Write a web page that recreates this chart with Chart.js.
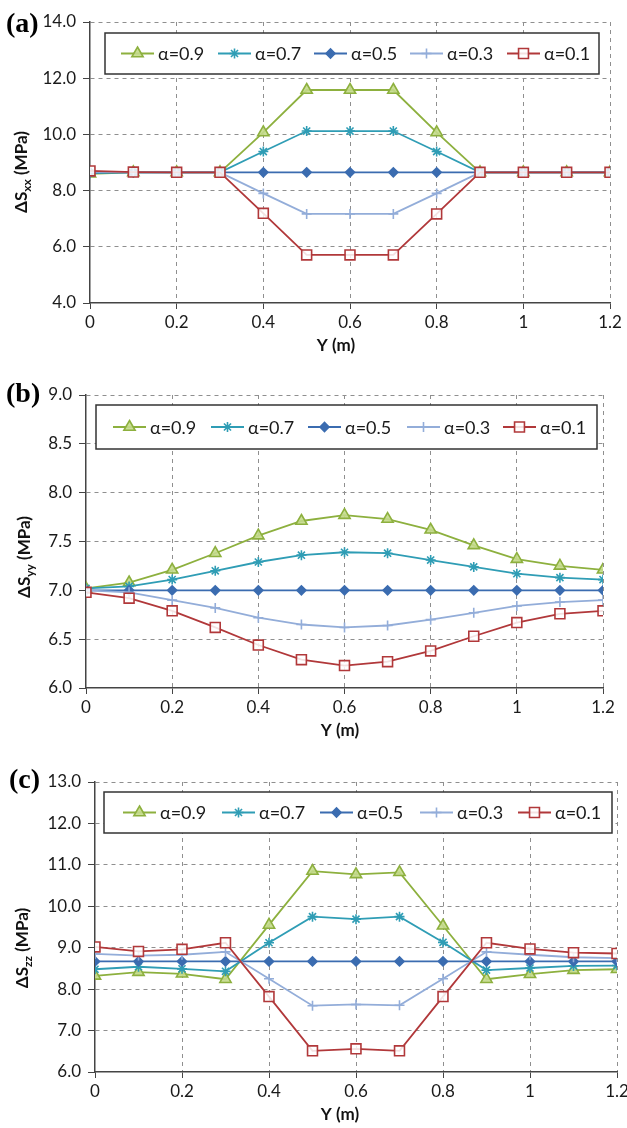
<!DOCTYPE html>
<html>
<head>
<meta charset="utf-8">
<script src="https://cdn.jsdelivr.net/npm/chart.js@4.4.1/dist/chart.umd.min.js"></script>
<style>
  body { margin: 0; background: #fff; }
  #wrap { position: relative; width: 627px; height: 1128px; }
  .panel { position: absolute; left: 0; width: 627px; }
  canvas { display: block; }
</style>
</head>
<body>
<div id="wrap">
  <div class="panel" style="top:0px"><canvas id="chartA" width="627" height="362"></canvas></div>
  <div class="panel" style="top:362px"><canvas id="chartB" width="627" height="383"></canvas></div>
  <div class="panel" style="top:745px"><canvas id="chartC" width="627" height="383"></canvas></div>
</div>
<script>
// Y position along the section (m)
const yPos = [0, 0.1, 0.2, 0.3, 0.4, 0.5, 0.6, 0.7, 0.8, 0.9, 1.0, 1.1, 1.2];
const seriesLabels = ['α=0.9', 'α=0.7', 'α=0.5', 'α=0.3', 'α=0.1'];

// (a) ΔSxx (MPa)
const sxx09 = [8.60, 8.65, 8.65, 8.65, 10.07, 11.58, 11.58, 11.58, 10.07, 8.65, 8.65, 8.65, 8.65];
const sxx07 = [8.62, 8.65, 8.65, 8.65, 9.39, 10.12, 10.12, 10.12, 9.39, 8.65, 8.65, 8.65, 8.65];
const sxx05 = [8.65, 8.65, 8.65, 8.65, 8.65, 8.65, 8.65, 8.65, 8.65, 8.65, 8.65, 8.65, 8.65];
const sxx03 = [8.67, 8.65, 8.65, 8.65, 7.90, 7.17, 7.17, 7.17, 7.90, 8.65, 8.65, 8.65, 8.65];
const sxx01 = [8.70, 8.66, 8.65, 8.65, 7.19, 5.71, 5.71, 5.71, 7.17, 8.65, 8.65, 8.65, 8.65];
const sxxTicks = [4, 6, 8, 10, 12, 14];

// (b) ΔSyy (MPa)
const syy09 = [7.02, 7.08, 7.21, 7.38, 7.56, 7.71, 7.77, 7.73, 7.62, 7.46, 7.32, 7.25, 7.21];
const syy07 = [7.02, 7.04, 7.11, 7.20, 7.29, 7.36, 7.39, 7.38, 7.31, 7.24, 7.17, 7.13, 7.11];
const syy05 = [7.00, 7.00, 7.00, 7.00, 7.00, 7.00, 7.00, 7.00, 7.00, 7.00, 7.00, 7.00, 7.00];
const syy03 = [7.00, 6.98, 6.90, 6.82, 6.72, 6.65, 6.62, 6.64, 6.70, 6.77, 6.84, 6.88, 6.90];
const syy01 = [6.98, 6.92, 6.79, 6.62, 6.44, 6.29, 6.23, 6.27, 6.38, 6.53, 6.67, 6.76, 6.79];
const syyTicks = [6.0, 6.5, 7.0, 7.5, 8.0, 8.5, 9.0];

// (c) ΔSzz (MPa)
const szz09 = [8.32, 8.41, 8.37, 8.24, 9.55, 10.85, 10.77, 10.82, 9.53, 8.24, 8.36, 8.46, 8.48];
const szz07 = [8.48, 8.54, 8.49, 8.43, 9.12, 9.75, 9.69, 9.75, 9.13, 8.46, 8.51, 8.56, 8.57];
const szz05 = [8.67, 8.67, 8.67, 8.67, 8.67, 8.67, 8.67, 8.67, 8.67, 8.67, 8.67, 8.67, 8.67];
const szz03 = [8.85, 8.81, 8.83, 8.90, 8.25, 7.60, 7.63, 7.61, 8.25, 8.90, 8.83, 8.77, 8.75];
const szz01 = [9.02, 8.91, 8.96, 9.12, 7.82, 6.51, 6.56, 6.51, 7.82, 9.12, 8.97, 8.88, 8.86];
const szzTicks = [6, 7, 8, 9, 10, 11, 12, 13];

const xTicks = [0, 0.2, 0.4, 0.6, 0.8, 1.0, 1.2];

const seriesStyles = [
    { color: '#8DB03E', fill: 'rgba(196,218,140,0.9)', point: 'triangle', radius: 6.5 },
    { color: '#2F9DB5', fill: '#2F9DB5', point: 'star', radius: 5 },
    { color: '#3B6CB0', fill: '#3B6CB0', point: 'rectRot', radius: 4.5 },
    { color: '#93ADD9', fill: '#93ADD9', point: 'cross', radius: 5 },
    { color: '#B1383A', fill: 'rgba(255,255,255,0.85)', point: 'rect', radius: 7 }
];

const FONT = 'Lato, "Open Sans", sans-serif';

function buildDatasets(seriesList) {
    return seriesList.map((vals, i) => {
        const st = seriesStyles[i];
        return {
            label: seriesLabels[i],
            data: vals.map((v, k) => ({ x: yPos[k], y: v })),
            borderColor: st.color,
            backgroundColor: st.color,
            borderWidth: 1.8,
            pointStyle: st.point,
            pointRadius: st.radius,
            pointBackgroundColor: st.fill,
            pointBorderColor: st.color,
            pointBorderWidth: 1.6,
            tension: 0,
            fill: false
        };
    }).reverse(); // draw α=0.1 last so it sits on top
}

// draws panel letter, axis titles and the boxed legend
const decorPlugin = {
    id: 'decor',
    afterDraw(chart, args, opts) {
        const ctx = chart.ctx;
        ctx.save();

        // panel letter
        ctx.fillStyle = '#000';
        ctx.font = 'bold 28px "Liberation Serif", "Times New Roman", serif';
        ctx.textBaseline = 'alphabetic';
        ctx.textAlign = 'left';
        ctx.fillText(opts.letter, opts.letterPos[0], opts.letterPos[1]);

        // x title
        ctx.font = 'bold 17px ' + FONT;
        ctx.textAlign = 'center';
        ctx.textBaseline = 'middle';
        ctx.fillStyle = '#111';
        ctx.fillText('Y (m)', opts.xTitlePos[0], opts.xTitlePos[1]);

        // y title with subscript
        ctx.translate(opts.yTitlePos[0], opts.yTitlePos[1]);
        ctx.rotate(-Math.PI / 2);
        ctx.textAlign = 'left';
        const big = 'bold 17px ' + FONT;
        const small = 'bold 12px ' + FONT;
        ctx.font = big;
        const w1 = ctx.measureText('ΔS').width;
        const w3 = ctx.measureText(' (MPa)').width;
        ctx.font = small;
        const w2 = ctx.measureText(opts.sub).width;
        let x0 = -(w1 + w2 + w3) / 2;
        ctx.font = big;
        ctx.fillText('ΔS', x0, 0);
        ctx.font = small;
        ctx.fillText(opts.sub, x0 + w1, 5);
        ctx.font = big;
        ctx.fillText(' (MPa)', x0 + w1 + w2, 0);
        ctx.setTransform(1, 0, 0, 1, 0, 0);

        // legend box
        const lg = opts.legend;
        ctx.fillStyle = '#fff';
        ctx.fillRect(lg.x, lg.y, lg.w, lg.h);
        ctx.strokeStyle = '#333';
        ctx.lineWidth = 1.5;
        ctx.strokeRect(lg.x, lg.y, lg.w, lg.h);
        const cy = lg.y + lg.h / 2;
        const ordered = chart.data.datasets.slice().reverse();
        ordered.forEach((ds, i) => {
            const sx = lg.x + lg.offsets[i];
            ctx.strokeStyle = ds.borderColor;
            ctx.lineWidth = 1.8;
            ctx.beginPath();
            ctx.moveTo(sx, cy);
            ctx.lineTo(sx + 33, cy);
            ctx.stroke();
            ctx.fillStyle = ds.pointBackgroundColor;
            ctx.strokeStyle = ds.pointBorderColor;
            ctx.lineWidth = ds.pointBorderWidth;
            Chart.helpers.drawPoint(ctx, {
                pointStyle: ds.pointStyle,
                radius: ds.pointRadius,
                borderWidth: ds.pointBorderWidth,
                rotation: 0
            }, sx + 16.5, cy);
            ctx.fillStyle = '#1a1a1a';
            ctx.font = '18px ' + FONT;
            ctx.textAlign = 'left';
            ctx.textBaseline = 'middle';
            ctx.fillText(ds.label, sx + 37, cy + 1);
        });
        ctx.restore();
    }
};

function makeChart(id, seriesList, yTicks, area, canvasH, decor) {
    const yMin = yTicks[0];
    const yMax = yTicks[yTicks.length - 1];
    const gridColor = c => (c.index === 0 ? 'rgba(0,0,0,0)' : '#8f8f8f');
    return new Chart(document.getElementById(id), {
        type: 'line',
        data: { datasets: buildDatasets(seriesList) },
        plugins: [decorPlugin],
        options: {
            responsive: false,
            animation: false,
            layout: { padding: { top: area.top, right: 627 - area.right, left: 0, bottom: 0 } },
            plugins: {
                legend: { display: false },
                tooltip: { enabled: false },
                decor: decor
            },
            scales: {
                x: {
                    type: 'linear',
                    min: xTicks[0],
                    max: xTicks[xTicks.length - 1],
                    afterBuildTicks: s => { s.ticks = xTicks.map(v => ({ value: v })); },
                    afterFit: s => { s.height = canvasH - area.bottom; s.paddingLeft = 0; s.paddingRight = 0; },
                    ticks: {
                        autoSkip: false,
                        maxRotation: 0,
                        padding: 3,
                        color: '#1a1a1a',
                        font: { family: FONT, size: 17 },
                        callback: v => String(+v.toFixed(1))
                    },
                    grid: { color: gridColor, tickColor: '#444', tickLength: 6, lineWidth: 1 },
                    border: { color: '#444', width: 1.5, dash: [4, 4] }
                },
                y: {
                    min: yMin,
                    max: yMax,
                    afterBuildTicks: s => { s.ticks = yTicks.map(v => ({ value: v })); },
                    afterFit: s => { s.width = area.left; },
                    ticks: {
                        padding: 7,
                        color: '#1a1a1a',
                        font: { family: FONT, size: 17 },
                        callback: v => v.toFixed(1)
                    },
                    grid: { color: gridColor, tickColor: '#444', tickLength: 7, lineWidth: 1 },
                    border: { color: '#444', width: 1.5, dash: [4, 4] }
                }
            }
        }
    });
}

makeChart('chartA', [sxx09, sxx07, sxx05, sxx03, sxx01], sxxTicks,
    { left: 90, right: 610, top: 22, bottom: 303 }, 362, {
        letter: '(a)', letterPos: [6, 32], sub: 'xx',
        xTitlePos: [336, 346], yTitlePos: [22, 172],
        legend: { x: 105, y: 33, w: 494, h: 41, offsets: [16, 113, 209, 305, 402] }
    });

makeChart('chartB', [syy09, syy07, syy05, syy03, syy01], syyTicks,
    { left: 86, right: 603, top: 33, bottom: 326 }, 383, {
        letter: '(b)', letterPos: [6, 40], sub: 'yy',
        xTitlePos: [340, 369], yTitlePos: [25, 195],
        legend: { x: 96, y: 43, w: 501, h: 44, offsets: [17, 115, 212, 311, 407] }
    });

makeChart('chartC', [szz09, szz07, szz05, szz03, szz01], szzTicks,
    { left: 95, right: 617, top: 37, bottom: 327 }, 383, {
        letter: '(c)', letterPos: [9, 43], sub: 'zz',
        xTitlePos: [340, 370], yTitlePos: [23, 203],
        legend: { x: 104, y: 47, w: 508, h: 41, offsets: [19, 118, 216, 316, 414] }
    });
</script>
</body>
</html>
